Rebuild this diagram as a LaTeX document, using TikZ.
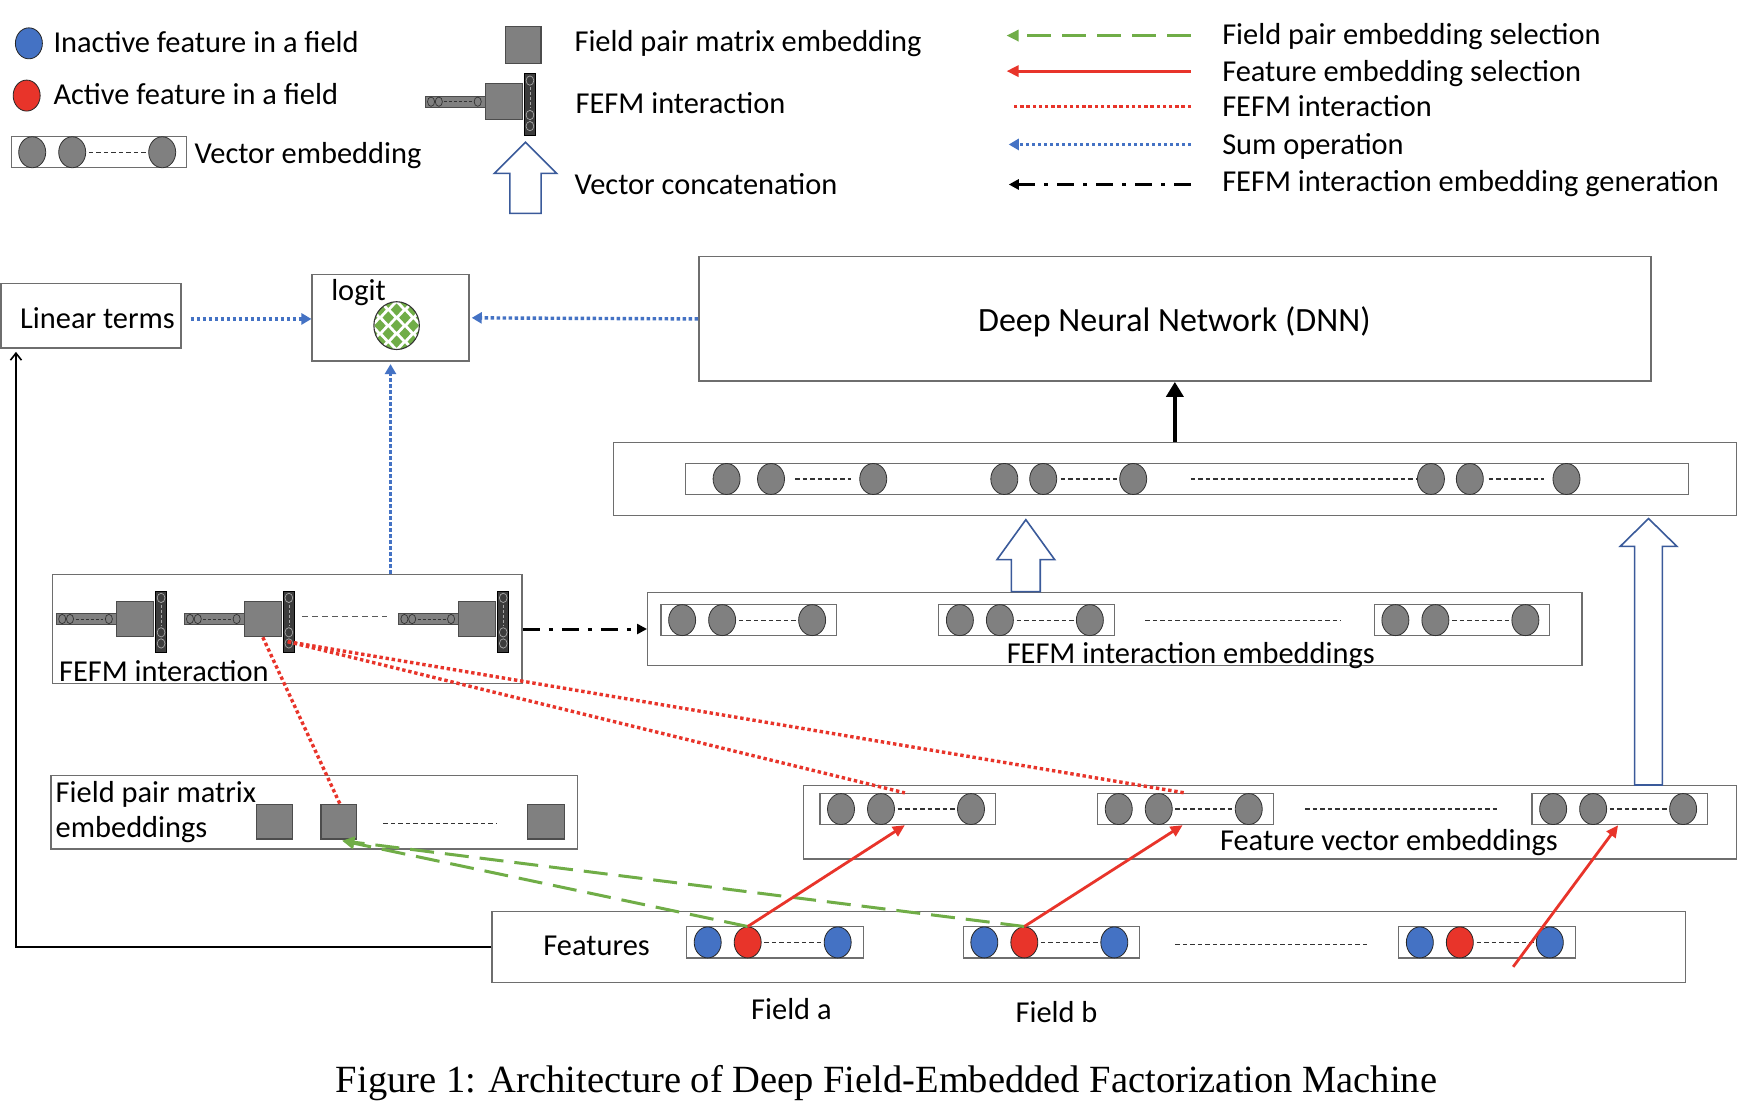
\documentclass[tikz,border=0pt]{standalone}
\usepackage{fontspec}
\setmainfont{Carlito}
\newfontfamily\capfont{Liberation Serif}
\usetikzlibrary{shapes.geometric,arrows.meta,fit,calc}
\definecolor{ablue}{HTML}{4472C4}
\definecolor{ared}{HTML}{E8342A}
\definecolor{agreen}{HTML}{70AD47}
\definecolor{agray}{HTML}{808080}
\definecolor{bgray}{HTML}{6E6E6E}
\definecolor{navyb}{HTML}{3A5A9A}
\definecolor{darkbar}{HTML}{3C3C3C}
\tikzset{
  box/.style={draw=bgray, line width=1.4pt, inner sep=0pt},
  inrect/.style={draw=bgray, line width=1.2pt, inner sep=0pt},
  gel/.style={ellipse, draw=black!80, fill=agray, line width=0.8pt, minimum width=27pt, minimum height=31pt, inner sep=0pt},
  fel/.style={ellipse, draw=black!85, line width=0.8pt, minimum width=27pt, minimum height=31pt, inner sep=0pt},
  dots/.style={black!80, line width=1.2pt, dash pattern=on 4.5pt off 3pt},
  lbl/.style={font=\fontsize{30.4}{36}\selectfont, inner sep=0pt},
  sqr/.style={draw=black!70, fill=agray, line width=1.2pt, inner sep=0pt},
  sumop/.style={ablue, line width=3.4pt, dash pattern=on 3.4pt off 2.6pt, -{Triangle[length=10pt,width=11pt]}},
  fefmln/.style={ared, line width=3.4pt, dash pattern=on 3.4pt off 2.8pt},
  fsel/.style={ared, line width=2.8pt, -{Triangle[length=12pt,width=11pt]}},
  psel/.style={agreen, line width=3pt, dash pattern=on 24pt off 11pt, -{Triangle[length=12pt,width=11pt]}},
  gen/.style={black, line width=3pt, dash pattern=on 17pt off 9pt on 4pt off 9pt, -{Triangle[length=10pt,width=10pt]}},
  blockarr/.style={draw=navyb, fill=white, line width=1.6pt, line join=miter},
}
\newcommand{\grayvec}[3]{%
  \node[inrect, fit={(#2,#3-14) (#2+158,#3+14)}] (#1) {};
  \draw[dots] (#2+70,#3) -- (#2+122,#3);
  \node[gel] at (#2+19,#3) {};
  \node[gel] at (#2+55,#3) {};
  \node[gel] at (#2+136,#3) {};
}
\newcommand{\featvec}[3]{%
  \node[inrect, fit={(#2,#3-14) (#2+159,#3+14)}] (#1) {};
  \draw[dots] (#2+70,#3) -- (#2+122,#3);
  \node[fel, fill=ablue] at (#2+19,#3) {};
  \node[fel, fill=ared] (#1r) at (#2+55,#3) {};
  \node[fel, fill=ablue] at (#2+136,#3) {};
}
\newcommand{\fefmicon}[3]{%
  \node[draw=black!70, fill=agray, line width=0.8pt, inner sep=0pt, fit={(#2,#3-5) (#2+54,#3+5)}] (#1rod) {};
  \foreach \cx in {5,12,47}{\draw[black!80, line width=0.7pt] (#2+\cx,#3) ellipse (3.2 and 4.2);}
  \draw[black!80, line width=0.7pt, dash pattern=on 3pt off 2pt] (#2+17,#3) -- (#2+42,#3);
  \node[sqr, line width=1pt, fit={(#2+54,#3-16) (#2+87,#3+16)}] (#1sq) {};
  \node[draw=black, fill=darkbar, line width=0.8pt, inner sep=0pt, fit={(#2+89,#3-25) (#2+99,#3+30)}] (#1bar) {};
  \foreach \cy in {-19,12,22}{\draw[gray!70, line width=0.7pt] (#2+94,#3+\cy) ellipse (3.5 and 4.2);}
  \draw[gray!70, line width=0.7pt, dash pattern=on 3pt off 2pt] (#2+94,#3-13) -- (#2+94,#3+6);
}
\begin{document}
\begin{tikzpicture}[x=1.11097pt, y=-1.11133pt]
\fill[white] (0,0) rectangle (1568,997);
\useasboundingbox (0,0) rectangle (1568,997);

% ---------------- legend left
\node[fel, fill=ablue] (lgb) at (26,39) {};
\node[lbl, anchor=base west] (tInact) at (48,47) {Inactive feature in a field};
\node[fel, fill=ared] (lgr) at (24,86) {};
\node[lbl, anchor=base west] (tAct) at (48,94) {Active feature in a field};
\grayvec{lgvec}{10}{137}
\node[lbl, anchor=base west] (tVec) at (175,147) {Vector embedding};

% ---------------- legend middle
\node[sqr, fit={(455,24) (487,57)}] (lgsq) {};
\node[lbl, anchor=base west] (tFpm) at (517,46) {Field pair matrix embedding};
\fefmicon{lg}{383}{91.5}
\node[lbl, anchor=base west] (tFi) at (518,102) {FEFM interaction};
\draw[blockarr] (459,192) -- (459,156) -- (445,156) -- (473,128) -- (501,156) -- (487,156) -- (487,192) -- cycle;
\node[lbl, anchor=base west] (tVc) at (517,175) {Vector concatenation};

% ---------------- legend right
\coordinate (l1r) at (1072,32); \coordinate (l1l) at (906,32);
\coordinate (l2r) at (1072,64); \coordinate (l2l) at (906,64);
\coordinate (l3r) at (1072,96); \coordinate (l3l) at (912,96);
\coordinate (l4r) at (1072,130); \coordinate (l4l) at (908,130);
\coordinate (l5r) at (1072,166); \coordinate (l5l) at (908,166);
\draw[psel] (l1r) -- (l1l);
\draw[fsel] (l2r) -- (l2l);
\draw[fefmln] (l3r) -- (l3l);
\draw[sumop] (l4r) -- (l4l);
\draw[gen] (l5r) -- (l5l);
\node[lbl, anchor=base west] (tR1) at (1100,40) {Field pair embedding selection};
\node[lbl, anchor=base west] (tR2) at (1100,73) {Feature embedding selection};
\node[lbl, anchor=base west] (tR3) at (1100,105) {FEFM interaction};
\node[lbl, anchor=base west] (tR4) at (1100,139) {Sum operation};
\node[lbl, anchor=base west] (tR5) at (1100,172) {FEFM interaction embedding generation};

% ---------------- top row
\node[box, fit={(1,255) (163,313)}] (lin) {};
\node[lbl, anchor=base west] (tLin) at (18,296) {Linear terms};
\node[box, fit={(281,247) (422,325)}] (logit) {};
\node[lbl, anchor=base west] (tLogit) at (298,270) {logit};
\begin{scope}
  \clip (357,293) ellipse (20.5 and 21.5);
  \foreach \i in {-4,...,4}{\foreach \j in {-4,...,4}{%
    \pgfmathtruncatemacro{\parity}{mod(\i+\j+20,2)}%
    \ifnum\parity=0
      \fill[agreen] ({357+\i*7.5},{293+\j*7.2}) +(-5.2,0) -- +(0,-5.6) -- +(5.2,0) -- +(0,5.6) -- cycle;
    \fi}}
\end{scope}
\node[ellipse, draw=black!80, line width=1.1pt, minimum width=45.5pt, minimum height=47.8pt, inner sep=0pt] (ball) at (357,293) {};
\node[box, fit={(629,231) (1486,343)}] (dnn) {};
\node[font=\fontsize{34}{40}\selectfont, inner sep=0pt, anchor=base] (tDnn) at (1057,298) {Deep Neural Network (DNN)};

% ---------------- concatenation row
\node[box, fit={(552,398) (1563,464)}] (concat) {};
\node[inrect, fit={(617,417) (1520,445)}] (catin) {};
\foreach \ex in {654,694,786,904,939,1020,1288,1323,1410}{\node[gel] at (\ex,431) {};}
\draw[dots] (716,431) -- (766,431);
\draw[dots] (955,431) -- (1005,431);
\draw[dots] (1072,431) -- (1275,431);
\draw[dots] (1340,431) -- (1390,431);

% ---------------- FEFM interaction box
\node[box, fit={(47,517) (470,615)}] (fefm) {};
\fefmicon{ic1}{51}{557}
\fefmicon{ic2}{166}{557}
\fefmicon{ic3}{359}{557}
\draw[dots, black!65, dash pattern=on 6pt off 4pt] (272,555) -- (348,555);
\node[lbl, anchor=base west] (tFefm) at (53,613) {FEFM interaction};

% ---------------- FEFM interaction embeddings
\node[box, fit={(583,533) (1424,599)}] (fie) {};
\grayvec{fi1}{595}{558}
\grayvec{fi2}{845}{558}
\grayvec{fi3}{1237}{558}
\draw[dots] (1031,558) -- (1207,558);
\node[lbl, anchor=base west] (tFie) at (906,597) {FEFM interaction embeddings};

% ---------------- field pair matrix embeddings
\node[box, fit={(46,698) (520,764)}] (fpm) {};
\node[lbl, anchor=base west] (tFpm1) at (50,722) {Field pair matrix};
\node[lbl, anchor=base west] (tFpm2) at (50,754) {embeddings};
\node[sqr, fit={(231,724) (263,755)}] (fpm1) {};
\node[sqr, fit={(289,724) (321,755)}] (fpm2) {};
\node[sqr, fit={(475,724) (508,755)}] (fpm3) {};
\draw[dots] (345,741) -- (447,741);

% ---------------- feature vector embeddings
\node[box, fit={(723,707) (1563,773)}] (fve) {};
\grayvec{fv1}{738}{728}
\grayvec{fv2}{988}{728}
\grayvec{fv3}{1379}{728}
\draw[dots] (1175,728) -- (1350,728);
\node[lbl, anchor=base west] (tFve) at (1098,765) {Feature vector embeddings};

% ---------------- features
\node[box, fit={(443,820) (1517,884)}] (feat) {};
\node[lbl, anchor=base west] (tFeat) at (489,860) {Features};
\featvec{fa}{618}{848}
\featvec{fb}{867}{848}
\featvec{fc}{1259}{848}
\draw[dots] (1058,850) -- (1232,850);
\node[lbl, anchor=base west] (tFa) at (676,917) {Field a};
\node[lbl, anchor=base west] (tFb) at (914,920) {Field b};

% ---------------- connectors
\draw[sumop] ($(lin.east)+(8,3)$) -- ($(logit.west)+(0,1)$);
\draw[sumop] (dnn.west) -- ($(logit.east)+(2,0)$);
\draw[sumop] (fefm.north -| logit.south) -- ($(logit.south)+(0,2)$);
\draw[black, line width=4.5pt, -{Triangle[length=15pt,width=17pt]}] (concat.north) -- (dnn.south);
\draw[black, line width=1.6pt, -{Straight Barb[length=7pt,width=11pt]}] (feat.west) -| ($(lin.south west)+(14,3)$);
\draw[gen] (fefm.east) -- (fie.west);

% block arrows (vector concatenation)
\coordinate (b1s) at ($(fie.north west)+(341,0)$);
\coordinate (b1t) at ($(concat.south west)+(372,3)$);
\draw[blockarr] ($(b1s)+(-13,0)$) -- ($(b1t)+(-13,36)$) -- ($(b1t)+(-26,36)$) -- (b1t) -- ($(b1t)+(26,36)$) -- ($(b1t)+(13,36)$) -- ($(b1s)+(13,0)$) -- cycle;
\coordinate (b2s) at ($(fve.north west)+(761.5,0)$);
\coordinate (b2t) at ($(concat.south west)+(932.5,2)$);
\draw[blockarr] ($(b2s)+(-12.5,0)$) -- ($(b2t)+(-12.5,25)$) -- ($(b2t)+(-25.5,25)$) -- (b2t) -- ($(b2t)+(25.5,25)$) -- ($(b2t)+(12.5,25)$) -- ($(b2s)+(12.5,0)$) -- cycle;

% FEFM interaction (red dotted)
\draw[fefmln] ($(ic2sq.south west)+(17,0)$) -- ($(fpm2.north)+(1,0)$);
\draw[fefmln] ($(ic2bar.south)+(-1,-10)$) -- ($(fv1.north west)+(77,0)$);
\draw[fefmln] ($(ic2bar.south)+(-1,-10)$) -- ($(fv2.north west)+(79,0)$);

% field pair embedding selection (green)
\draw[psel] (far.north) -- ($(fpm2.south)+(3,1)$);
\draw[psel] (fbr.north) -- ($(fpm2.south)+(3,1)$);

% feature embedding selection (red)
\draw[fsel] (far.north) -- ($(fv1.south west)+(77,0)$);
\draw[fsel] (fbr.north) -- ($(fv2.south west)+(77,0)$);
\coordinate (fr3) at (1362,870);
\draw[fsel] (fr3) -- ($(fv3.south west)+(78,0)$);

% caption
\node[font=\capfont\fontsize{38.5}{44}\selectfont, inner sep=0pt, anchor=base] (cap) at (798,983) {Figure 1: Architecture of Deep Field-Embedded Factorization Machine};
\end{tikzpicture}
\end{document}
